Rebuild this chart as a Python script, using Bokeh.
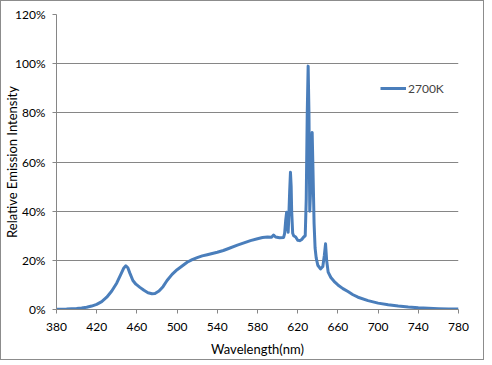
from bokeh.plotting import figure
from bokeh.models import Range1d, FixedTicker, NumeralTickFormatter, Legend, LegendItem, ColumnDataSource
from bokeh.embed import file_html
from bokeh.resources import INLINE

wavelength_nm = [380, 390, 400, 405, 410, 415, 420, 425, 430, 435, 440, 444, 447, 449, 451, 453, 456,
                 459, 463, 467, 471, 475, 478, 482, 486, 490, 495, 500, 505, 510, 515, 520, 525, 530, 540,
                 546, 550, 560, 573, 580, 585, 590, 594, 596, 598, 602, 606, 607, 608, 609, 610, 610.5, 611,
                 612, 612.8, 613.5, 614, 615, 616, 618, 620, 622, 624, 626, 627.5, 628.5, 629.5, 630.4,
                 631.2, 632, 633, 634.4, 635.3, 636.3, 637.3, 638.4, 640, 642.7, 645, 646.5, 647.7, 648.8,
                 650.3, 653, 657, 660, 665, 670, 675, 680, 690, 700, 710, 720, 730, 740, 750, 760, 770, 780]
intensity_pct = [0.1, 0.2, 0.4, 0.6, 0.9, 1.4, 2.1, 3.2, 5.0, 7.5, 10.8, 14.3, 16.9, 17.8, 17.0, 14.8, 11.8,
                 10.3, 9.0, 7.8, 6.8, 6.4, 6.5, 7.5, 9.3, 11.8, 14.3, 16.2, 17.7, 19.2, 20.3, 21.1, 21.8, 22.3, 23.3,
                 24.0, 24.6, 26.2, 28.0, 28.8, 29.3, 29.5, 29.4, 30.3, 29.5, 29.2, 29.3, 31.0, 36.0, 39.6, 33.0, 31.4, 36.0,
                 48.0, 55.8, 50.0, 40.0, 31.0, 30.0, 29.5, 28.2, 28.0, 28.5, 29.5, 30.0, 45.0, 80.0, 99.0,
                 80.0, 40.0, 50.0, 72.0, 55.0, 35.0, 25.0, 21.0, 18.0, 16.5, 17.5, 22.0, 26.7, 20.0,
                 15.2, 13.0, 11.1, 10.0, 8.5, 7.3, 6.0, 5.0, 3.6, 2.6, 1.9, 1.4, 1.0, 0.7, 0.5, 0.35, 0.25, 0.2]
series_name = "2700K"
x_ticks = [380, 420, 460, 500, 540, 580, 620, 660, 700, 740, 780]
y_ticks = [0, 0.2, 0.4, 0.6, 0.8, 1.0, 1.2]

FONT = "Lato"
GRID = "#868686"
BLUE = "#4A7EBB"

src = ColumnDataSource(dict(x=wavelength_nm, y=[v / 100 for v in intensity_pct]))

p = figure(frame_width=402, frame_height=295, output_backend="svg", toolbar_location=None,
           x_range=Range1d(380, 780), y_range=Range1d(0, 1.2),
           min_border_left=47, min_border_right=25, min_border_top=13, min_border_bottom=48)
p.background_fill_color = "white"
p.border_fill_color = "white"
p.outline_line_color = None

r = p.line("x", "y", source=src, line_color=BLUE, line_width=3, line_join="round")

p.xaxis.ticker = FixedTicker(ticks=x_ticks)
p.yaxis.ticker = FixedTicker(ticks=y_ticks)
p.yaxis.formatter = NumeralTickFormatter(format="0%")
p.xgrid.grid_line_color = None
p.ygrid.grid_line_color = GRID
p.ygrid.grid_line_width = 1
for ax in (p.xaxis, p.yaxis):
    ax.axis_line_color = GRID
    ax.major_tick_line_color = GRID
    ax.major_tick_in = 0
    ax.major_tick_out = 4
    ax.minor_tick_line_color = None
    ax.major_label_text_font = FONT
    ax.major_label_text_font_size = "12px"
    ax.major_label_text_color = "black"
    ax.axis_label_text_font = FONT
    ax.axis_label_text_font_size = "13px"
    ax.axis_label_text_font_style = "normal"
    ax.axis_label_text_color = "black"
p.xaxis.axis_label = "Wavelength(nm)"
p.yaxis.axis_label = "Relative Emission Intensity"
p.xaxis.major_label_standoff = 9
p.yaxis.major_label_standoff = 7
p.xaxis.axis_label_standoff = 7
p.yaxis.axis_label_standoff = -8

legend = Legend(items=[LegendItem(label=series_name, renderers=[r])], location=(324, 211),
                glyph_width=26, glyph_height=20, label_height=20, label_standoff=2,
                padding=0, margin=0, border_line_color=None, background_fill_alpha=0,
                label_text_font=FONT, label_text_font_size="12px")
p.add_layout(legend)
p.styles = {"border": "1px solid #8c8c8c"}

open("out.html", "w").write(file_html(p, INLINE))
